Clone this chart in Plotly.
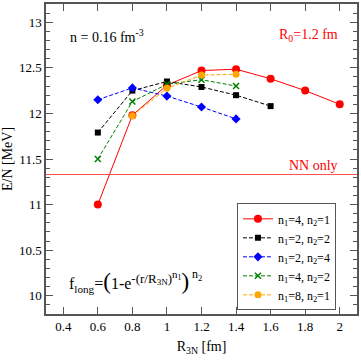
import plotly.graph_objects as go

# R3N [fm] and E/N [MeV] for each (n1, n2) choice
r_41 = [0.6, 0.8, 1.0, 1.2, 1.4, 1.6, 1.8, 2.0]
e_41 = [11.00, 11.98, 12.31, 12.47, 12.485, 12.38, 12.25, 12.10]
r_22 = [0.6, 0.8, 1.0, 1.2, 1.4, 1.6]
e_22 = [11.79, 12.25, 12.35, 12.29, 12.20, 12.08]
r_24 = [0.6, 0.8, 1.0, 1.2, 1.4]
e_24 = [12.15, 12.28, 12.19, 12.07, 11.94]
r_42 = [0.6, 0.8, 1.0, 1.2, 1.4]
e_42 = [11.50, 12.13, 12.32, 12.37, 12.30]
r_81 = [0.8, 1.0, 1.2, 1.4]
e_81 = [11.975, 12.275, 12.42, 12.43]
nn_only = 11.33

serif = "Liberation Serif, Times New Roman, serif"

series = [
    (r_41, e_41, "n<sub>1</sub>=4, n<sub>2</sub>=1", "#ff0000", "circle", 8, "solid"),
    (r_22, e_22, "n<sub>1</sub>=2, n<sub>2</sub>=2", "#000000", "square", 6, "dash"),
    (r_24, e_24, "n<sub>1</sub>=2, n<sub>2</sub>=4", "#0000ff", "diamond", 7, "dash"),
    (r_42, e_42, "n<sub>1</sub>=4, n<sub>2</sub>=2", "#008000", "x-thin", 6, "dash"),
    (r_81, e_81, "n<sub>1</sub>=8, n<sub>2</sub>=1", "#ffa500", "circle", 7, "dash"),
]

fig = go.Figure()

fig.add_shape(type="line", xref="paper", x0=0, x1=1, y0=nn_only, y1=nn_only,
              line=dict(color="#ff5050", width=1))

for x, y, name, col, sym, size, dash in series:
    mk = dict(symbol=sym, size=size, color=col)
    if sym == "x-thin":
        mk["line"] = dict(color=col, width=1.5)
    fig.add_trace(go.Scatter(
        x=x, y=y, name=name, mode="lines+markers",
        line=dict(color=col, width=1, dash=dash if dash == "solid" else "4px,2px"),
        marker=mk,
    ))

fig.add_annotation(x=0.43, y=12.85, xanchor="left", yanchor="middle", showarrow=False,
                   text="n = 0.16 fm<sup>-3</sup>", font=dict(family=serif, size=14, color="black"))
fig.add_annotation(x=2.0, y=12.85, xanchor="right", yanchor="middle", showarrow=False,
                   text="R<sub>0</sub>=1.2 fm", font=dict(family=serif, size=14, color="#ff0000"))
fig.add_annotation(x=2.0, y=11.43, xanchor="right", yanchor="middle", showarrow=False,
                   text="NN only", font=dict(family=serif, size=14, color="#ff0000"))
fig.add_annotation(x=0.42, y=10.16, xanchor="left", yanchor="middle", showarrow=False,
                   text="f<sub>long</sub>=<span style='font-size:23px'>(</span>1-e"
                        "<sup><span style='font-size:13px'>-(r/R<sub>3N</sub>)</span>"
                        "<sup><span style='font-size:11px'>n<sub>1</sub></span></sup></sup>"
                        "<span style='font-size:23px'>)</span>",
                   font=dict(family=serif, size=16, color="black"))
# outer exponent of the formula
fig.add_annotation(x=1.135, y=10.23, xanchor="left", yanchor="middle", showarrow=False,
                   text="n<sub>2</sub>", font=dict(family=serif, size=12, color="black"))

axis_common = dict(showline=True, linecolor="#555555", linewidth=1.5, mirror="allticks",
                   ticks="inside", tickcolor="#555555", showgrid=False, zeroline=False,
                   tickfont=dict(family=serif, size=13, color="black"))

fig.update_layout(
    width=361, height=362,
    margin=dict(l=46, r=2, t=2, b=48),
    plot_bgcolor="white", paper_bgcolor="white",
    xaxis=dict(range=[0.3, 2.1], tickvals=[0.4, 0.6, 0.8, 1.0, 1.2, 1.4, 1.6, 1.8, 2.0],
               ticktext=["0.4", "0.6", "0.8", "1", "1.2", "1.4", "1.6", "1.8", "2"],
               ticklen=7, title=dict(text="R<sub>3N</sub> [fm]", font=dict(family=serif, size=14, color="black"), standoff=8),
               **axis_common),
    yaxis=dict(range=[9.8, 13.2], tickvals=[10, 10.5, 11, 11.5, 12, 12.5, 13],
               ticktext=["10", "10.5", "11", "11.5", "12", "12.5", "13"],
               ticklen=7, minor=dict(ticks="inside", ticklen=4, dtick=0.1, tickcolor="#555555"),
               title=dict(text="E/N [MeV]", font=dict(family=serif, size=14, color="black"), standoff=6),
               **axis_common),
    legend=dict(x=0.614, y=0.357, xanchor="left", yanchor="top",
                bordercolor="#555555", borderwidth=1, bgcolor="white",
                font=dict(family=serif, size=12, color="black"),
                tracegroupgap=0, itemwidth=30),
    showlegend=True,
)

fig.write_html("out.html", config={"displayModeBar": False},
               post_script="document.body.style.margin='0px';")
